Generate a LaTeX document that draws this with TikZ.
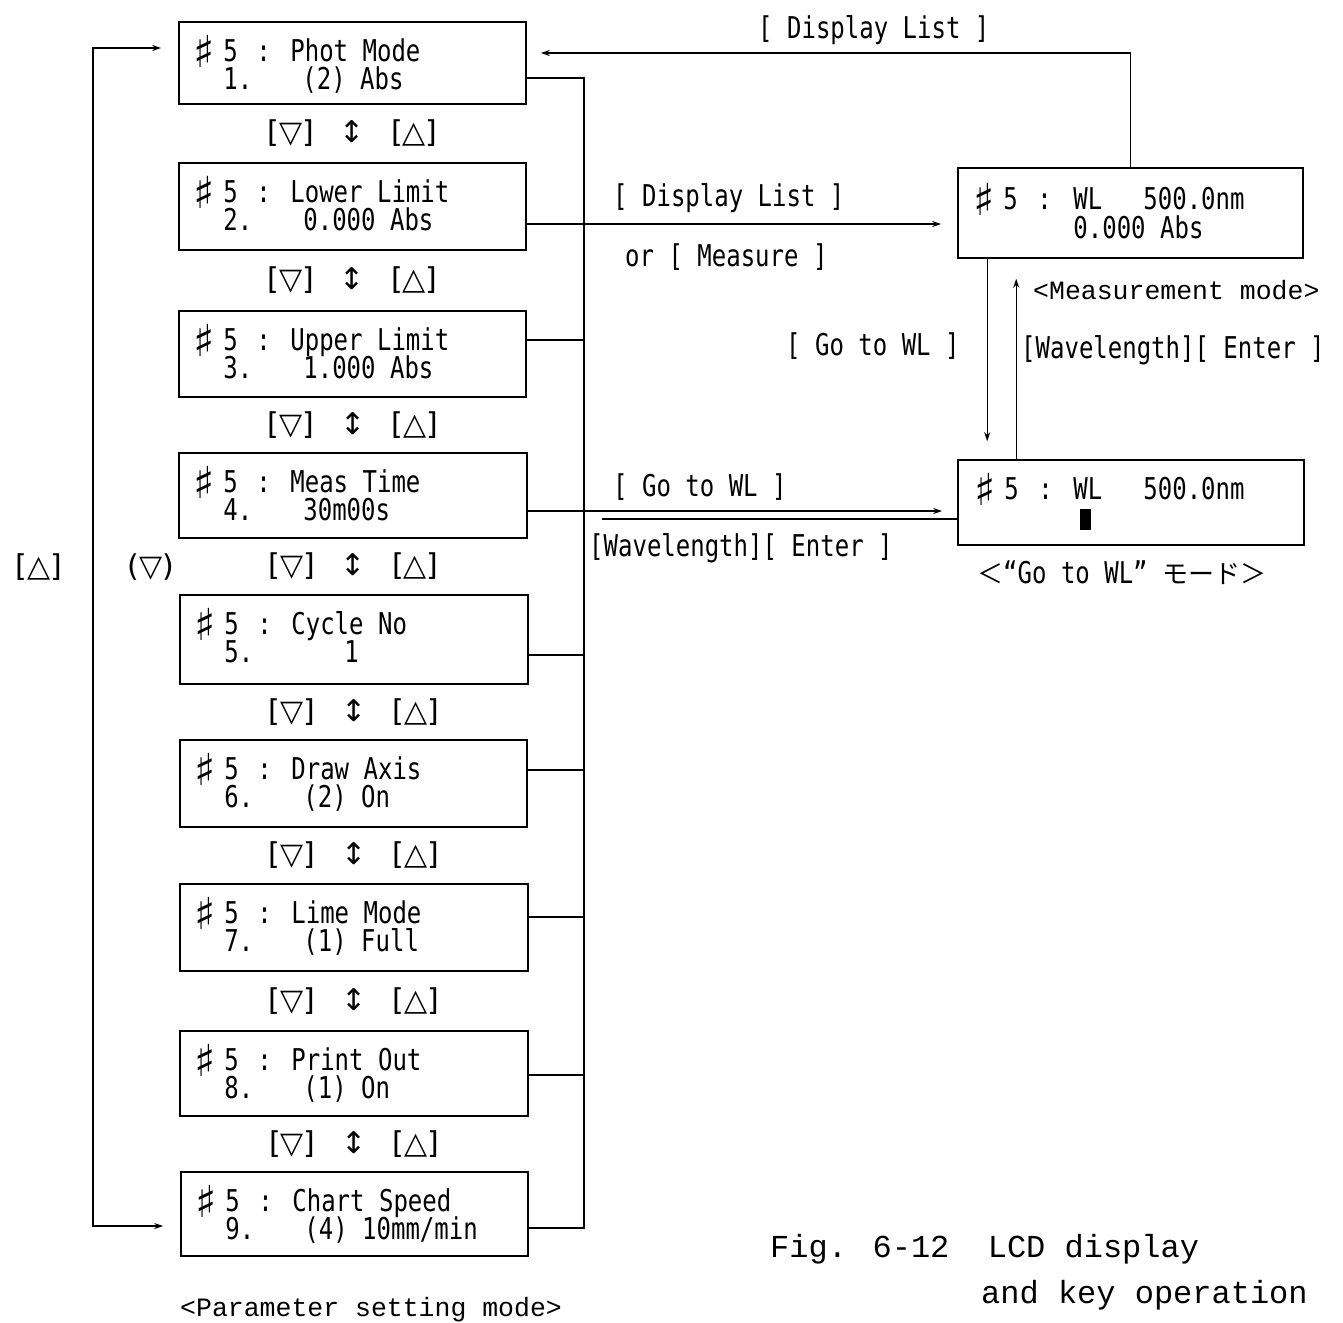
\documentclass[tikz,border=0pt]{standalone}
\usepackage{fontspec}
\usetikzlibrary{arrows.meta,calc}
\newfontfamily\lcdf[FakeStretch=0.8]{DejaVu Sans Mono}
\newfontfamily\symf{DejaVu Sans}
\newfontfamily\courf{Liberation Mono}
\newfontfamily\jpf{Noto Sans CJK JP}
\newcommand\shp{{\symf\fontsize{44}{44}\selectfont ♯}}
\tikzset{
  lcdbox/.style={draw, line width=1.6pt, inner sep=0pt, rectangle},
  lcdtxt/.style={anchor=base west, inner sep=0pt, font=\lcdf\fontsize{30}{30}\selectfont},
  keytxt/.style={inner sep=0pt, font=\symf\fontsize{30}{30}\selectfont},
  courtxt/.style={anchor=base west, inner sep=0pt, font=\courf\fontsize{26.5}{26.5}\selectfont},
  figtxt/.style={anchor=base west, inner sep=0pt, font=\courf\fontsize{32}{32}\selectfont},
  conn/.style={line width=1.3pt},
  arr/.style={-{Stealth[length=9pt,width=6pt]}},
}
\newcommand\lcditem[9]{%
  \node[lcdbox, minimum width={#4-#2}, minimum height={#5-#3}] (#1) at ({(#2+#4)/2},{(#3+#5)/2}) {};
  \node[lcdtxt] (#1-s) at ($(#1.north west)+(15,46)$) {\shp};
  \node[lcdtxt] (#1-n) at ($(#1.north west)+(45,40)$) {5};
  \node[lcdtxt] (#1-c) at ($(#1.north west)+(78,40)$) {:};
  \node[lcdtxt] (#1-l) at ($(#1.north west)+(112,40)$) {#6};
  \node[lcdtxt] (#1-k) at ($(#1.north west)+(45,68)$) {#7};
  \node[lcdtxt] (#1-v) at ($(#1.north west)+(#9,68)$) {#8};
}
\begin{document}
\begin{tikzpicture}[x=1pt,y=-1pt]
\useasboundingbox (0,0) rectangle (1343,1322);
\fill[white] (0,0) rectangle (1343,1322);

% left column boxes
\lcditem{b1}{179}{22}{526}{104}{Phot Mode}{1.}{(2) Abs}{124}
\lcditem{b2}{179}{163}{526}{250}{Lower Limit}{2.}{0.000 Abs}{125}
\lcditem{b3}{179}{311}{526}{397}{Upper Limit}{3.}{1.000 Abs}{125}
\lcditem{b4}{179}{453}{527}{538}{Meas Time}{4.}{30m00s}{125}
\lcditem{b5}{180}{595}{528}{684}{Cycle No}{5.}{1}{165}
\lcditem{b6}{180}{740}{527}{827}{Draw Axis}{6.}{(2) On}{124}
\lcditem{b7}{180}{884}{528}{971}{Lime Mode}{7.}{(1) Full}{124}
\lcditem{b8}{180}{1031}{528}{1116}{Print Out}{8.}{(1) On}{124}
\lcditem{b9}{181}{1172}{528}{1256}{Chart Speed}{9.}{(4) 10mm/min}{124}

% key labels between boxes
\foreach \a/\b in {b1/b2,b2/b3,b3/b4,b4/b5,b5/b6,b6/b7,b7/b8,b8/b9}{
  \node[keytxt] (k-\a) at ($(\a.south)!0.5!(\b.north)$) {[▽]\hspace{26pt}↕\hspace{26pt}[△]};
}

% right boxes
\node[lcdbox, minimum width=345pt, minimum height=90pt] (meas) at (1130.5,213) {};
\node[lcdtxt] (meas-s) at ($(meas.north west)+(16,48)$) {\shp};
\node[lcdtxt] (meas-n) at ($(meas.north west)+(46,42)$) {5};
\node[lcdtxt] (meas-c) at ($(meas.north west)+(80,42)$) {:};
\node[lcdtxt] (meas-w) at ($(meas.north west)+(116,42)$) {WL};
\node[lcdtxt] (meas-v) at ($(meas.north west)+(186,42)$) {500.0nm};
\node[lcdtxt] (meas-a) at ($(meas.north west)+(116,71)$) {0.000 Abs};

\node[lcdbox, minimum width=346pt, minimum height=85pt] (gowl) at (1131,502.5) {};
\node[lcdtxt] (gowl-s) at ($(gowl.north west)+(17,46)$) {\shp};
\node[lcdtxt] (gowl-n) at ($(gowl.north west)+(47,40)$) {5};
\node[lcdtxt] (gowl-c) at ($(gowl.north west)+(81,40)$) {:};
\node[lcdtxt] (gowl-w) at ($(gowl.north west)+(116,40)$) {WL};
\node[lcdtxt] (gowl-v) at ($(gowl.north west)+(186,40)$) {500.0nm};
\fill (1080,509) rectangle (1091,530);

% bus on the right of left column
\coordinate (c1) at ([yshift=-15pt]b1.east);
\coordinate (c2) at ([yshift=-17.5pt]b2.east);
\coordinate (c3) at ([yshift=14pt]b3.east);
\coordinate (c4) at ([yshift=-15.5pt]b4.east);
\coordinate (c5) at ([yshift=-15.5pt]b5.east);
\coordinate (c6) at ([yshift=13.5pt]b6.east);
\coordinate (c7) at ([yshift=10.5pt]b7.east);
\coordinate (c8) at ([yshift=-1.5pt]b8.east);
\coordinate (c9) at ([yshift=-14pt]b9.east);
\coordinate (bustop) at (584,78);
\coordinate (busbot) at (584,1228);
\draw[conn] (c1) -- (bustop) -- (busbot) -- (c9);
\foreach \c in {c3,c5,c6,c7,c8}{
  \draw[conn] (\c) -- (\c -| bustop);
}
\draw[conn,arr,shorten >=16pt] (c2) -- (c2 -| meas.west);
\draw[conn,arr,shorten >=15pt] (c4) -- (c4 -| gowl.west);
\coordinate (r1) at ([yshift=-16.5pt]gowl.west);
\coordinate (retend) at (602,519);
\draw[conn] (r1) -- (retend);

% top return
\draw[conn,arr,shorten >=14pt] (meas.north) |- ([yshift=10pt]b1.east);

% vertical arrows between right boxes
\coordinate (d1) at ([xshift=30pt]meas.south west);
\coordinate (u1) at ([xshift=59pt]gowl.north west);
\draw[conn,arr,shorten >=18pt] (d1) -- (d1 |- gowl.north);
\draw[conn,arr,shorten >=20pt] (u1) -- (u1 |- meas.south);

% left loop
\coordinate (lt) at ([yshift=15pt]b1.west);
\coordinate (lb) at ([yshift=-12pt]b9.west);
\coordinate (lx) at (93,600);
\draw[conn,{Stealth[length=9pt,width=6pt]}-{Stealth[length=9pt,width=6pt]},shorten <=17pt,shorten >=17pt]
  (lt) -- (lt -| lx) -- (lb -| lx) -- (lb);
\node[keytxt] (kup) at (39,567) {[△]};
\node[keytxt] (kdn) at (151,567) {(▽)};

% labels
\node[lcdtxt] (t-dl1) at (758,38) {[ Display List ]};
\node[lcdtxt] (t-dl2) at (613,206) {[ Display List ]};
\node[lcdtxt] (t-ms) at (625,266) {or [ Measure ]};
\node[lcdtxt] (t-gw1) at (786,355) {[ Go to WL ]};
\node[lcdtxt] (t-gw2) at (613,496) {[ Go to WL ]};
\node[lcdtxt] (t-we1) at (589,556) {[Wavelength][ Enter ]};
\node[lcdtxt] (t-we2) at (1021,358) {[Wavelength][ Enter ]};
\node[courtxt] (t-mm) at (1033,299) {<Measurement mode>};
\node[courtxt] (t-ps) at (180,1316) {<Parameter setting mode>};
\node[anchor=base west, inner sep=0pt] (t-gm) at (977,583)
  {{\jpf\fontsize{26}{26}\selectfont ＜}{\lcdf\fontsize{30}{30}\selectfont “Go to WL” }{\jpf\fontsize{26}{26}\selectfont モード＞}};
\node[figtxt] (t-fig1) at (770,1257) {Fig. 6-12\ \ LCD display};
\node[figtxt] (t-fig2) at (981,1303) {and key operation};
\end{tikzpicture}
\end{document}
